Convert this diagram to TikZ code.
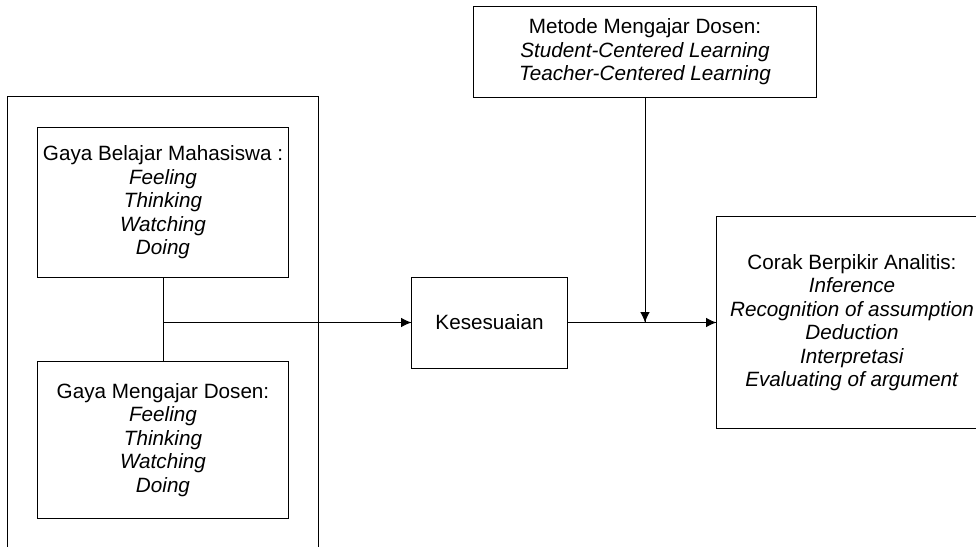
\documentclass[tikz,border=0pt]{standalone}
\usepackage{fontspec}
\setmainfont{Liberation Sans}
\usetikzlibrary{arrows.meta,decorations.markings}

\begin{document}
\begin{tikzpicture}[
    x=0.025cm, y=-0.025cm,
    font=\fontsize{14.7}{16.7}\selectfont,
    line width=0.7pt,
    kotak/.style={draw, align=center, inner sep=0pt},
    panah/.style={decoration={markings,mark=at position 1 with %
    {\arrow{Latex[length=2.6mm,width=2.4mm]}}},postaction={decorate}}
  ]

    \useasboundingbox (0,0) rectangle (976,547);
    \clip (0,0) rectangle (976,547);

    % kotak luar
    \draw (7.5,560) -- (7.5,96.5) -- (318,96.5) -- (318,560);

    \node[kotak, minimum width=6.25cm, minimum height=3.725cm] (belajar) at (163,202.5)
      {Gaya Belajar Mahasiswa :\\ \textit{Feeling}\\ \textit{Thinking}\\ \textit{Watching}\\ \textit{Doing}};
    \node[kotak, minimum width=6.25cm, minimum height=3.9cm] (mengajar) at (163,440)
      {Gaya Mengajar Dosen:\\ \textit{Feeling}\\ \textit{Thinking}\\ \textit{Watching}\\ \textit{Doing}};
    \node[kotak, minimum width=3.875cm, minimum height=2.275cm] (sesuai) at (489.5,322.5)
      {Kesesuaian};
    \node[kotak, minimum width=8.55cm, minimum height=2.25cm] (metode) at (645,52)
      {Metode Mengajar Dosen:\\ \textit{Student-Centered Learning}\\ \textit{Teacher-Centered Learning}};
    \node[kotak, minimum width=6.75cm, minimum height=5.275cm] (corak) at (852,322.5)
      {Corak Berpikir Analitis:\\ \textit{Inference}\\ \textit{Recognition of assumption}\\
       \textit{Deduction}\\ \textit{Interpretasi}\\ \textit{Evaluating of argument}};

    \coordinate (junc) at (belajar.south |- sesuai.west);
    \coordinate (temu) at (metode.south |- sesuai.east);

    \draw (belajar) -- (mengajar);
    \draw[panah] (junc) -- (sesuai.west);
    \draw[panah] (sesuai.east) -- (corak.west);
    \draw[panah] (metode) -- (temu);

  \end{tikzpicture}
\end{document}
